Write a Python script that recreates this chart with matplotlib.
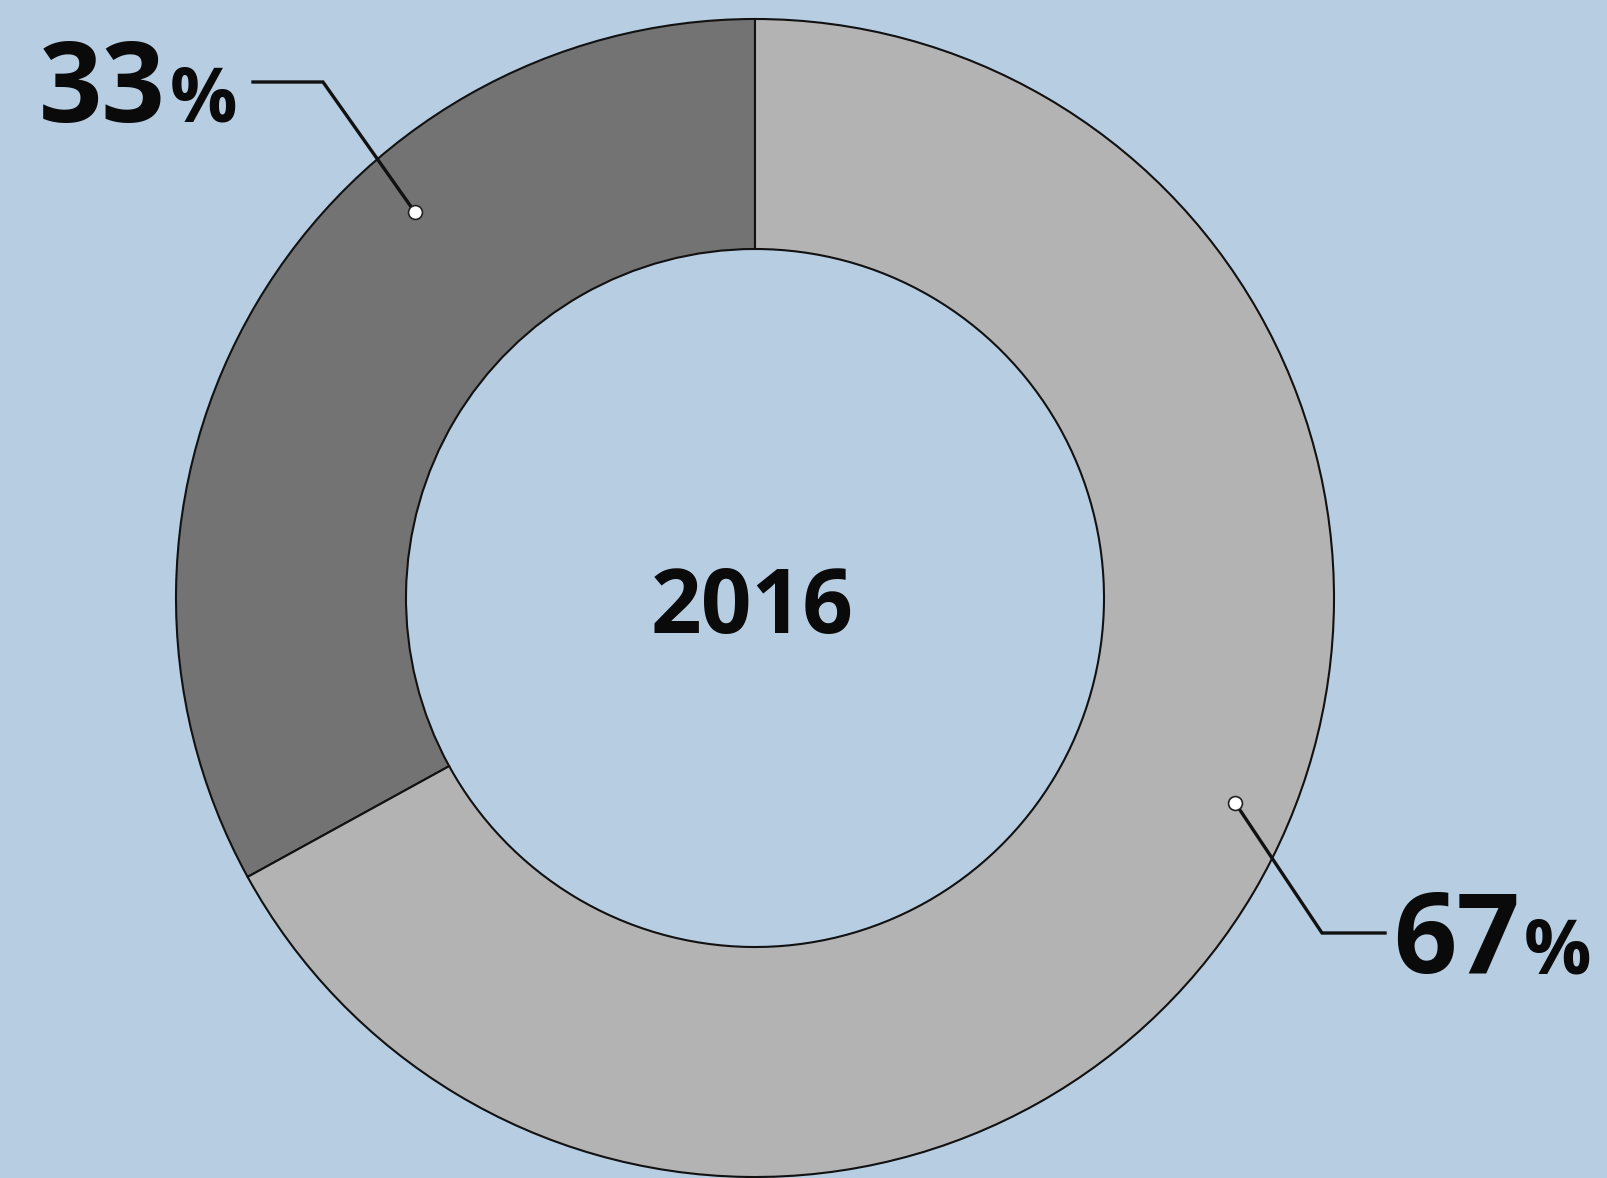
import numpy as np
import matplotlib.pyplot as plt

# data
labels = ['33', '67']
shares = [33, 67]
colors = ['#737373', '#b3b3b3']
year = '2016'

W, H = 1608, 1178
bg = '#b7cde2'
font = ['Open Sans', 'DejaVu Sans']

fig = plt.figure(figsize=(W / 100, H / 100), dpi=100, facecolor=bg)
ax = fig.add_axes([0, 0, 1, 1])

cx, cy = 755, H - 598
r_out, r_in = 579, 349

ax.pie(shares, colors=colors, startangle=90, counterclock=True,
       center=(cx, cy), radius=r_out, frame=True,
       wedgeprops=dict(width=r_out - r_in, edgecolor='#111111', linewidth=1.5))
ax.set_xlim(0, W)
ax.set_ylim(0, H)
ax.set_aspect('equal')
ax.axis('off')

ax.text(cx - 3, H - 633, year, ha='center', va='baseline', fontsize=64,
        fontweight='bold', family=font, color='#0a0a0a')

# leader lines: dot angle/radius, elbow, end point, label anchor
leaders = [
    dict(ang=131.4, r=514, elbow=(323, H - 82), end=(253, H - 82),
         txt=(166, H - 122), label=labels[0]),
    dict(ang=-23.1, r=522, elbow=(1322, H - 933), end=(1385, H - 933),
         txt=(1520, H - 973), label=labels[1]),
]
for ld in leaders:
    a = np.deg2rad(ld['ang'])
    px, py = cx + ld['r'] * np.cos(a), cy + ld['r'] * np.sin(a)
    xs = [px, ld['elbow'][0], ld['end'][0]]
    ys = [py, ld['elbow'][1], ld['end'][1]]
    ax.plot(xs, ys, color='#111111', lw=2.4, zorder=5, solid_joinstyle='miter')
    ax.plot(px, py, 'o', ms=10, mfc='white', mec='#222222', mew=1.2, zorder=6)
    tx, ty = ld['txt']
    ax.text(tx, ty, ld['label'], ha='right', va='baseline', fontsize=80,
            fontweight='bold', family=font, color='#0a0a0a')
    ax.text(tx + 4, ty, '%', ha='left', va='baseline', fontsize=54,
            fontweight='bold', family=font, color='#0a0a0a')

fig.savefig('out.png', dpi=100, facecolor=bg)
